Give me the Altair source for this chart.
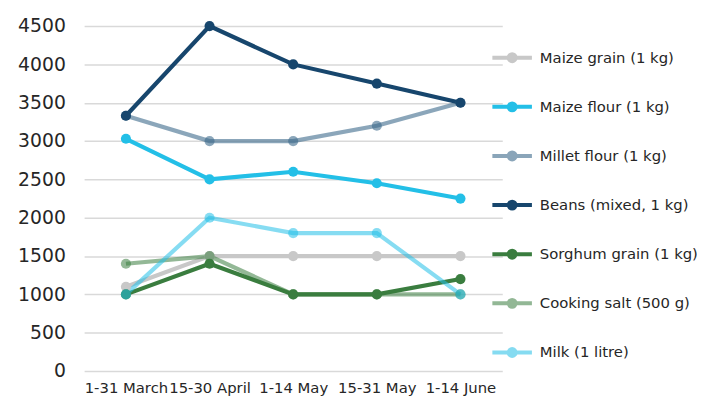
import altair as alt
import pandas as pd

periods = ["1-31 March", "15-30 April", "1-14 May", "15-31 May", "1-14 June"]
series = ["Maize grain (1 kg)", "Maize flour (1 kg)", "Millet flour (1 kg)",
          "Beans (mixed, 1 kg)", "Sorghum grain (1 kg)", "Cooking salt (500 g)",
          "Milk (1 litre)"]
maize_grain = [1100, 1500, 1500, 1500, 1500]
maize_flour = [3030, 2500, 2600, 2450, 2250]
millet_flour = [3330, 3000, 3000, 3200, 3500]
beans = [3330, 4500, 4000, 3750, 3500]
sorghum = [1000, 1400, 1000, 1000, 1200]
salt = [1400, 1500, 1000, 1000, 1000]
milk = [1000, 2000, 1800, 1800, 1000]
colors = ["#c8c8c8", "#23bfe7", "#3d6a8c", "#17466d", "#3a7d3f", "#3a7d3f", "#23bfe7"]
opacities = [1.0, 1.0, 0.6, 1.0, 1.0, 0.55, 0.55]

values = [maize_grain, maize_flour, millet_flour, beans, sorghum, salt, milk]
rows = []
for s, vals in zip(series, values):
    for p, v in zip(periods, vals):
        rows.append({"Period": p, "Series": s, "Price": v})
df = pd.DataFrame(rows)

FONT = "DejaVu Sans"
legend_symbol = "M-2,0L2,0M-0.35,0A0.35,0.35 0 1,0 0.35,0A0.35,0.35 0 1,0 -0.35,0Z"


def make_legend():
    return alt.Legend(title=None, orient="none", legendX=421, legendY=20,
                      symbolType=legend_symbol, symbolSize=400,
                      symbolStrokeWidth=4, labelFont=FONT, labelFontSize=15,
                      labelColor="#262626", labelOffset=16, rowPadding=25.7,
                      padding=0, labelLimit=300)


color = alt.Color("Series:N", scale=alt.Scale(domain=series, range=colors),
                  legend=make_legend())
opacity = alt.Opacity("Series:N",
                      scale=alt.Scale(type="ordinal", domain=series, range=opacities),
                      legend=make_legend())

x = alt.X("Period:N", sort=periods, title=None,
          scale=alt.Scale(paddingInner=0, paddingOuter=0),
          axis=alt.Axis(labelAngle=0, domain=False, ticks=False, labelFont=FONT,
                        labelFontSize=15, labelColor="#262626", labelPadding=10,
                        labelOverlap=False, labelLimit=200))
y = alt.Y("Price:Q", title=None, scale=alt.Scale(domain=[0, 4500], nice=False),
          axis=alt.Axis(values=list(range(0, 4501, 500)), format="d", domain=False,
                        ticks=False, labelFont=FONT, labelFontSize=19, labelColor="#262626",
                        labelPadding=19, gridColor="#d9d9d9", gridWidth=1.5))

base = alt.Chart(df).encode(x=x, y=y, color=color, opacity=opacity)
lines = base.mark_line(strokeWidth=4.2)
points = base.mark_point(filled=True, size=105)

chart = alt.layer(lines, points).properties(
    width=423, height=349,
    autosize=alt.AutoSizeParams(type="none"),
    padding={"left": 77, "top": 16, "right": 197, "bottom": 27},
).configure_view(stroke=None)

chart.save("out.html", embed_options={"renderer": "svg", "actions": False})
